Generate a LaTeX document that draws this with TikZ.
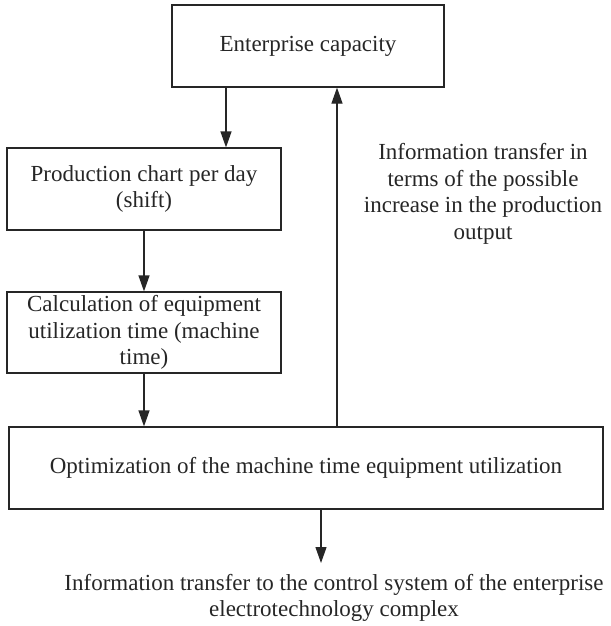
\documentclass[tikz,border=0pt]{standalone}
\usepackage{fontspec}
\setmainfont{Liberation Serif}
\usetikzlibrary{arrows.meta}
\begin{document}
\begin{tikzpicture}[x=1pt,y=-1pt,
  box/.style={draw=black!85, line width=1.2pt, align=center, inner sep=0pt,
    font=\fontsize{23}{26.5}\selectfont, text=black!85},
  lbl/.style={align=center, inner sep=0pt, font=\fontsize{23}{26.5}\selectfont, text=black!85},
  arr/.style={draw=black!85, line width=1.2pt, -{Triangle[length=16pt,width=11pt]}}]
\useasboundingbox (0,0) rectangle (610,626);
\node[box, minimum width=272pt, minimum height=82pt] (ent) at (308,46) {Enterprise capacity};
\node[box, minimum width=274pt, minimum height=82pt] (prod) at (144,189) {Production chart per day\\(shift)};
\node[box, minimum width=274pt, minimum height=81pt] (calc) at (144,332.5) {Calculation of equipment\\utilization time (machine\\time)};
\node[box, minimum width=594pt, minimum height=82pt] (opt) at (306,468) {Optimization of the machine time equipment utilization};
\node[lbl] (info) at (483,194) {Information transfer in\\terms of the possible\\increase in the production\\output};
\node[lbl] (out) at (334,598) {Information transfer to the control system of the enterprise\\electrotechnology complex};
\coordinate (tip) at (321,563);
\draw[arr] (ent.south -| 226,0) -- (prod.north -| 226,0);
\draw[arr] (prod.south) -- (calc.north);
\draw[arr] (calc.south) -- (opt.north -| calc.south);
\draw[arr] (opt.north -| 337,0) -- (ent.south -| 337,0);
\draw[arr] (opt.south -| tip) -- (tip);
\end{tikzpicture}
\end{document}
